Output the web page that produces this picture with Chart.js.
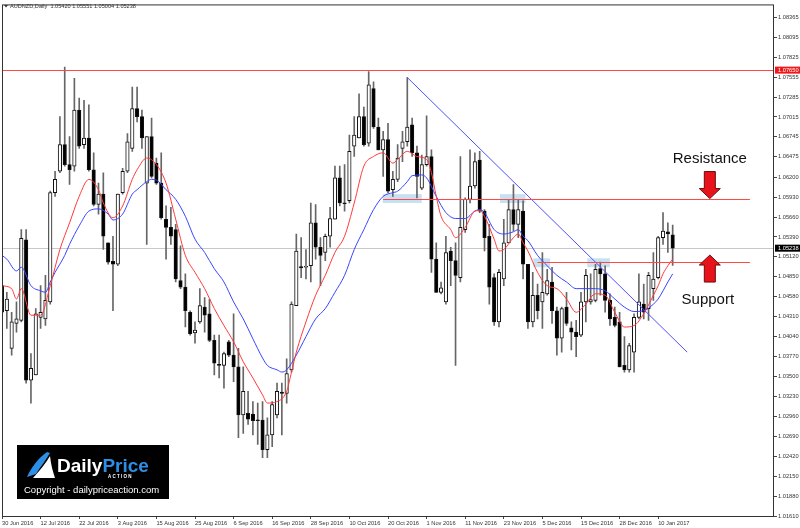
<!DOCTYPE html>
<html>
<head>
<meta charset="utf-8">
<title>AUDNZD Daily</title>
<script src="https://cdn.jsdelivr.net/npm/chart.js@4.4.1/dist/chart.umd.min.js"></script>
<style>
  html, body { margin: 0; padding: 0; background: #fff; }
  #wrap { width: 800px; height: 528px; }
</style>
</head>
<body>
<div id="wrap"><canvas id="chart" width="800" height="528"></canvas></div>
<script>
// daily candles, 30 Jun 2016 .. 13 Jan 2017
const opens = [
  1.0473, 1.0439, 1.0388, 1.0422, 1.0426, 1.0535, 1.0345, 1.0352, 1.0430, 1.0428,
  1.0451, 1.0599, 1.0628, 1.0664, 1.0637, 1.0635, 1.0711, 1.0664, 1.0673, 1.0630,
  1.0583, 1.0597, 1.0531, 1.0506, 1.0502, 1.0599, 1.0628, 1.0659, 1.0713, 1.0702,
  1.0612, 1.0675, 1.0639, 1.0612, 1.0563, 1.0552, 1.0549, 1.0480, 1.0471, 1.0437,
  1.0409, 1.0424, 1.0444, 1.0435, 1.0399, 1.0366, 1.0365, 1.0397, 1.0379, 1.0363,
  1.0298, 1.0300, 1.0299, 1.0291, 1.0291, 1.0251, 1.0271, 1.0298, 1.0329, 1.0327,
  1.0359, 1.0446, 1.0499, 1.0498, 1.0500, 1.0558, 1.0525, 1.0518, 1.0540, 1.0563,
  1.0619, 1.0585, 1.0588, 1.0662, 1.0673, 1.0702, 1.0666, 1.0740, 1.0688, 1.0657,
  1.0671, 1.0603, 1.0617, 1.0659, 1.0668, 1.0691, 1.0653, 1.0605, 1.0637, 1.0648,
  1.0509, 1.0464, 1.0451, 1.0520, 1.0507, 1.0484, 1.0549, 1.0590, 1.0608, 1.0643,
  1.0574, 1.0540, 1.0484, 1.0424, 1.0482, 1.0531, 1.0576, 1.0556, 1.0574, 1.0502,
  1.0424, 1.0460, 1.0451, 1.0462, 1.0478, 1.0439, 1.0402, 1.0444, 1.0416, 1.0410,
  1.0406, 1.0451, 1.0451, 1.0453, 1.0496, 1.0489, 1.0453, 1.0430, 1.0424, 1.0365,
  1.0359, 1.0383, 1.0430, 1.0448, 1.0442, 1.0469, 1.0484, 1.0538, 1.0546, 1.05420
];
const highs = [
  1.0502, 1.0464, 1.0437, 1.0451, 1.0549, 1.0549, 1.0381, 1.0442, 1.0473, 1.0487,
  1.0601, 1.0628, 1.0702, 1.0769, 1.0675, 1.0754, 1.0727, 1.0724, 1.0718, 1.0653,
  1.0612, 1.0626, 1.0531, 1.0540, 1.0597, 1.0632, 1.0679, 1.0742, 1.0742, 1.0711,
  1.0675, 1.0700, 1.0646, 1.0653, 1.0581, 1.0579, 1.0556, 1.0527, 1.0489, 1.0439,
  1.0424, 1.0469, 1.0457, 1.0455, 1.0406, 1.0406, 1.0383, 1.0399, 1.0435, 1.0388,
  1.0363, 1.0330, 1.0316, 1.0314, 1.0316, 1.0294, 1.0316, 1.0341, 1.0341, 1.0374,
  1.0451, 1.0543, 1.0538, 1.0522, 1.0585, 1.0583, 1.0538, 1.0543, 1.0579, 1.0635,
  1.0635, 1.0637, 1.0677, 1.0702, 1.0733, 1.0715, 1.0763, 1.0749, 1.0700, 1.0682,
  1.0693, 1.0628, 1.0664, 1.0682, 1.0755, 1.0700, 1.0662, 1.0650, 1.0703, 1.0657,
  1.0531, 1.0478, 1.0540, 1.0525, 1.0531, 1.0648, 1.0592, 1.0657, 1.0653, 1.0655,
  1.0576, 1.0556, 1.0489, 1.0495, 1.0563, 1.0590, 1.0610, 1.0590, 1.0588, 1.0502,
  1.0491, 1.0475, 1.0518, 1.0495, 1.0498, 1.0444, 1.0444, 1.0464, 1.0424, 1.0426,
  1.0464, 1.0495, 1.0489, 1.0502, 1.0505, 1.0500, 1.0462, 1.0444, 1.0437, 1.0404,
  1.0395, 1.0435, 1.0489, 1.0475, 1.0491, 1.0518, 1.0540, 1.0572, 1.0558, 1.05551
];
const lows = [
  1.0428, 1.0415, 1.0379, 1.0410, 1.0424, 1.0341, 1.0314, 1.0352, 1.0415, 1.0419,
  1.0448, 1.0594, 1.0626, 1.0635, 1.0610, 1.0628, 1.0659, 1.0659, 1.0628, 1.0581,
  1.0570, 1.0522, 1.0502, 1.0439, 1.0500, 1.0597, 1.0626, 1.0655, 1.0695, 1.0659,
  1.0529, 1.0619, 1.0610, 1.0563, 1.0509, 1.0529, 1.0478, 1.0469, 1.0417, 1.0406,
  1.0395, 1.0422, 1.0410, 1.0397, 1.0352, 1.0348, 1.0334, 1.0377, 1.0343, 1.0267,
  1.0273, 1.0285, 1.0271, 1.0258, 1.0240, 1.0240, 1.0255, 1.0294, 1.0271, 1.0314,
  1.0356, 1.0446, 1.0484, 1.0482, 1.0478, 1.0509, 1.0473, 1.0507, 1.0525, 1.0563,
  1.0581, 1.0574, 1.0585, 1.0648, 1.0673, 1.0662, 1.0662, 1.0686, 1.0657, 1.0621,
  1.0599, 1.0594, 1.0614, 1.0641, 1.0662, 1.0648, 1.0592, 1.0603, 1.0635, 1.0491,
  1.0464, 1.0462, 1.0448, 1.0473, 1.0365, 1.0478, 1.0545, 1.0585, 1.0605, 1.0572,
  1.0520, 1.0448, 1.0419, 1.0417, 1.0473, 1.0531, 1.0547, 1.0538, 1.0482, 1.0415,
  1.0417, 1.0428, 1.0415, 1.0460, 1.0422, 1.0379, 1.0383, 1.0419, 1.0386, 1.0377,
  1.0404, 1.0424, 1.0448, 1.0451, 1.0460, 1.0437, 1.0419, 1.0417, 1.0363, 1.0356,
  1.0356, 1.0356, 1.0428, 1.0428, 1.0426, 1.0453, 1.0482, 1.0529, 1.0518, 1.05004
];
const closes = [
  1.0437, 1.0455, 1.0424, 1.0428, 1.0537, 1.0345, 1.0361, 1.0435, 1.0437, 1.0453,
  1.0599, 1.0617, 1.0664, 1.0637, 1.0630, 1.0711, 1.0662, 1.0673, 1.0630, 1.0583,
  1.0597, 1.0540, 1.0505, 1.0502, 1.0597, 1.0628, 1.0668, 1.0713, 1.0702, 1.0673,
  1.0675, 1.0621, 1.0612, 1.0565, 1.0552, 1.0540, 1.0482, 1.0471, 1.0439, 1.0408,
  1.0413, 1.0446, 1.0433, 1.0399, 1.0368, 1.0365, 1.0381, 1.0379, 1.0363, 1.0298,
  1.0330, 1.0292, 1.0290, 1.0290, 1.0251, 1.0271, 1.0312, 1.0330, 1.0327, 1.0354,
  1.0448, 1.0520, 1.0497, 1.0499, 1.0558, 1.0525, 1.0514, 1.0540, 1.0564, 1.0619,
  1.0585, 1.0584, 1.0655, 1.0677, 1.0702, 1.0664, 1.0745, 1.0688, 1.0657, 1.0671,
  1.0601, 1.0617, 1.0646, 1.0668, 1.0688, 1.0653, 1.0621, 1.0637, 1.0648, 1.0509,
  1.0464, 1.0470, 1.0518, 1.0507, 1.0487, 1.0552, 1.0590, 1.0608, 1.0641, 1.0574,
  1.0538, 1.0471, 1.0424, 1.0491, 1.0531, 1.0576, 1.0556, 1.0576, 1.0502, 1.0424,
  1.0460, 1.0439, 1.0464, 1.0480, 1.0439, 1.0402, 1.0442, 1.0422, 1.0410, 1.0404,
  1.0451, 1.0487, 1.0454, 1.0495, 1.0489, 1.0453, 1.0428, 1.0419, 1.0363, 1.0359,
  1.0392, 1.0430, 1.0451, 1.0437, 1.0487, 1.0482, 1.0538, 1.0547, 1.0543, 1.05238
];

// moving averages as drawn (bar index, value)
const maFastPoints = [
  [0, 1.0473], [2, 1.0469], [3, 1.0455], [4, 1.0469], [6, 1.0433], [8, 1.0433], [10, 1.0473],
  [12, 1.0522], [14, 1.0558], [16, 1.0594], [18, 1.0617], [20, 1.0603], [21, 1.0585], [23, 1.0565],
  [25, 1.0581], [27, 1.0617], [28, 1.0630], [30, 1.0646], [32, 1.0637], [34, 1.0612], [36, 1.0563],
  [38, 1.0514], [40, 1.0491], [42, 1.0469], [44, 1.0442], [46, 1.0419], [48, 1.0397], [50, 1.0370],
  [52, 1.0348], [54, 1.0325], [55, 1.0314], [57, 1.0316], [59, 1.0330], [60, 1.0356], [61, 1.0383],
  [63, 1.0424], [65, 1.0460], [67, 1.0487], [69, 1.0518], [71, 1.0540], [73, 1.0585], [75, 1.0635],
  [77, 1.0648], [79, 1.0653], [81, 1.0639], [82, 1.0644], [84, 1.0655], [86, 1.0648], [88, 1.0644],
  [89, 1.0626], [90, 1.0594], [91, 1.0567], [93, 1.0549], [94, 1.0538], [96, 1.0552], [98, 1.0574],
  [99, 1.0575], [100, 1.0567], [102, 1.0536], [103, 1.0520], [104, 1.0522], [106, 1.0538],
  [107, 1.0543], [108, 1.0531], [109, 1.0520], [111, 1.0491], [113, 1.0473], [115, 1.0469],
  [117, 1.0455], [119, 1.0437], [121, 1.0448], [123, 1.0462], [125, 1.0460], [127, 1.0437],
  [129, 1.0417], [131, 1.0419], [133, 1.0435], [135, 1.0460], [136, 1.0473], [137, 1.0489],
  [138, 1.0500], [139, 1.0509]
];
const maSlowPoints = [
  [0, 1.0514], [1, 1.0509], [3, 1.0493], [4, 1.0498], [6, 1.0473], [8, 1.0466], [9, 1.0464],
  [10, 1.0478], [11, 1.0491], [13, 1.0514], [14, 1.0529], [16, 1.0554], [18, 1.0574], [20, 1.0577],
  [22, 1.0570], [23, 1.0562], [25, 1.0570], [27, 1.0597], [28, 1.0603], [30, 1.0614], [31, 1.0617],
  [32, 1.0616], [34, 1.0603], [36, 1.0590], [38, 1.0567], [40, 1.0536], [42, 1.0518], [44, 1.0496],
  [46, 1.0478], [48, 1.0451], [50, 1.0428], [52, 1.0401], [54, 1.0375], [55, 1.0365], [57, 1.0359],
  [58, 1.0356], [59, 1.0359], [61, 1.0379], [63, 1.0404], [65, 1.0428], [67, 1.0442], [69, 1.0464],
  [71, 1.0487], [73, 1.0522], [75, 1.0549], [77, 1.0576], [79, 1.0594], [81, 1.0599], [82, 1.0601],
  [84, 1.0614], [85, 1.0622], [87, 1.0623], [88, 1.0619], [90, 1.0594], [92, 1.0572], [94, 1.0564],
  [96, 1.0564], [98, 1.0574], [99, 1.0576], [100, 1.0572], [102, 1.0549], [104, 1.0543],
  [106, 1.0546], [107, 1.0549], [108, 1.0540], [109, 1.0534], [111, 1.0514], [113, 1.0500],
  [115, 1.0487], [117, 1.0478], [119, 1.0469], [121, 1.0469], [123, 1.0469], [125, 1.0466],
  [127, 1.0455], [129, 1.0444], [131, 1.0438], [133, 1.0439], [135, 1.0448], [136, 1.0455],
  [137, 1.0466], [138, 1.0478], [139, 1.0489]
];

// price axis labels
const yTicks = [
  1.08365, 1.08095, 1.07825, 1.07555, 1.07285, 1.07015, 1.06745, 1.06475, 1.06200,
  1.05930, 1.05660, 1.05390, 1.05120, 1.04850, 1.04580, 1.04310, 1.04040, 1.03770,
  1.03500, 1.03230, 1.02960, 1.02690, 1.02420, 1.02150, 1.01880, 1.01610
];
const yMin = 1.0161;
const yMax = 1.0854;

const monthNames = ['Jan', 'Feb', 'Mar', 'Apr', 'May', 'Jun', 'Jul', 'Aug', 'Sep', 'Oct', 'Nov', 'Dec'];
const skippedDays = ['2016-12-26', '2017-01-02'];
const emptySlots = 21;     // blank space right of the last bar
const labelEvery = 8;

// drawn objects (bar index / price)
const trendPoints = [[84, 1.0755], [142, 1.0383]];
const majorLevel = 1.0765;
const lastPrice = 1.05238;
const resistance = { from: 79, to: 155, price: 1.0591 };
const support = { from: 111, to: 155, price: 1.0505 };
const zones = [
  { from: 78.9, to: 87.0, top: 1.0597, bottom: 1.0585 },
  { from: 103.2, to: 108.5, top: 1.0597, bottom: 1.0585 },
  { from: 110.1, to: 113.6, top: 1.0510, bottom: 1.0498 },
  { from: 121.3, to: 126.0, top: 1.0510, bottom: 1.0498 }
];
const noteAt = 146.7;

const FONT = "'Liberation Sans', Arial, sans-serif";

function buildDates(count) {
  const out = [];
  const d = new Date(Date.UTC(2016, 5, 30));
  while (out.length < count) {
    const wd = d.getUTCDay();
    const iso = d.toISOString().slice(0, 10);
    if (wd !== 0 && wd !== 6 && !skippedDays.includes(iso)) {
      out.push(d.getUTCDate() + ' ' + monthNames[d.getUTCMonth()] + ' ' + d.getUTCFullYear());
    }
    d.setUTCDate(d.getUTCDate() + 1);
  }
  return out;
}

const dates = buildDates(opens.length);
const labels = dates.concat(new Array(emptySlots).fill(''));
const N = labels.length;

function sparse(points) {
  const a = new Array(N).fill(null);
  points.forEach(([i, v]) => { a[i] = v; });
  return a;
}

const isUp = i => closes[i] >= opens[i];
const isLabelTick = i => i < dates.length && i % labelEvery === 0;

function arrow(ctx, cx, tipY, down) {
  const shaftW = 5.5, headW = 10.5, headH = 10, len = 27;
  const s = down ? -1 : 1;
  const baseY = tipY + s * len;
  const neckY = tipY + s * headH;
  ctx.beginPath();
  ctx.moveTo(cx, tipY);
  ctx.lineTo(cx + headW, neckY);
  ctx.lineTo(cx + shaftW, neckY);
  ctx.lineTo(cx + shaftW, baseY);
  ctx.lineTo(cx - shaftW, baseY);
  ctx.lineTo(cx - shaftW, neckY);
  ctx.lineTo(cx - headW, neckY);
  ctx.closePath();
  ctx.fillStyle = '#e8121b';
  ctx.fill();
  ctx.strokeStyle = '#6a0a0a';
  ctx.lineWidth = 1;
  ctx.stroke();
}

const overlay = {
  id: 'overlay',
  beforeDatasetsDraw(chart) {
    const { ctx, chartArea: a, scales: { x, y } } = chart;
    ctx.save();
    ctx.beginPath();
    ctx.rect(a.left, a.top, a.right - a.left, a.bottom - a.top);
    ctx.clip();
    ctx.fillStyle = 'rgba(190, 220, 240, 0.85)';
    zones.forEach(z => {
      const x0 = x.getPixelForValue(z.from), x1 = x.getPixelForValue(z.to);
      const y0 = y.getPixelForValue(z.top), y1 = y.getPixelForValue(z.bottom);
      ctx.fillRect(x0, y0, x1 - x0, y1 - y0);
    });
    const py = Math.round(y.getPixelForValue(lastPrice)) + 0.5;
    ctx.strokeStyle = '#c8c8c8';
    ctx.lineWidth = 1;
    ctx.beginPath();
    ctx.moveTo(a.left, py);
    ctx.lineTo(a.right, py);
    ctx.stroke();
    ctx.restore();
  },
  afterDatasetsDraw(chart) {
    const { ctx, chartArea: a, scales: { x, y } } = chart;
    ctx.save();
    ctx.beginPath();
    ctx.rect(a.left, a.top, a.right - a.left, a.bottom - a.top);
    ctx.clip();
    ctx.strokeStyle = '#ff4848';
    ctx.lineWidth = 1;
    const hl = (p, x0, x1) => {
      const py = Math.round(y.getPixelForValue(p)) + 0.5;
      ctx.beginPath();
      ctx.moveTo(x0, py);
      ctx.lineTo(x1, py);
      ctx.stroke();
    };
    hl(majorLevel, a.left, a.right);
    hl(resistance.price, x.getPixelForValue(resistance.from), x.getPixelForValue(resistance.to));
    hl(support.price, x.getPixelForValue(support.from), x.getPixelForValue(support.to));

    // notes
    const cx = x.getPixelForValue(noteAt);
    const ry = y.getPixelForValue(resistance.price);
    const sy = y.getPixelForValue(support.price);
    arrow(ctx, cx, ry, true);
    arrow(ctx, cx, sy - 7, false);
    ctx.fillStyle = '#111';
    ctx.font = '15px ' + FONT;
    ctx.textAlign = 'center';
    ctx.textBaseline = 'middle';
    ctx.fillText('Resistance', cx, ry - 40);
    ctx.fillText('Support', cx - 2, sy + 38);
    ctx.restore();
  },
  afterDraw(chart) {
    const { ctx, chartArea: a, scales: { y } } = chart;
    ctx.save();
    // frame
    ctx.strokeStyle = '#333';
    ctx.lineWidth = 1;
    ctx.strokeRect(a.left + 0.5, a.top + 0.5, a.right - a.left - 1, a.bottom - a.top);

    // price markers on the axis
    ctx.font = '5.7px ' + FONT;
    ctx.textBaseline = 'middle';
    ctx.textAlign = 'left';
    [[majorLevel, '#f01818', '1.07650'], [lastPrice, '#000', lastPrice.toFixed(5)]].forEach(([p, bg, txt]) => {
      const py = y.getPixelForValue(p);
      ctx.fillStyle = bg;
      ctx.fillRect(a.right + 1, py - 3.5, 25, 7);
      ctx.fillStyle = '#fff';
      ctx.fillText(txt, a.right + 4, py);
    });

    // title
    ctx.fillStyle = '#333';
    ctx.beginPath();
    ctx.moveTo(4, 5); ctx.lineTo(8, 5); ctx.lineTo(6, 7.5); ctx.closePath();
    ctx.fill();
    ctx.font = '5.6px ' + FONT;
    ctx.fillText('AUDNZD,Daily  1.05420 1.05551 1.05004 1.05238', 10, 6.5);

    // logo
    ctx.fillStyle = '#000';
    ctx.fillRect(17, 445, 152, 54);
    ctx.fillStyle = '#2d8ee6';
    ctx.beginPath();
    ctx.moveTo(27, 477);
    ctx.bezierCurveTo(31, 468, 38, 458, 47, 452);
    ctx.lineTo(50, 453);
    ctx.bezierCurveTo(46, 460, 41, 466, 36, 474);
    ctx.closePath();
    ctx.fill();
    ctx.fillStyle = '#fff';
    ctx.beginPath();
    ctx.moveTo(33, 478);
    ctx.bezierCurveTo(40, 470, 46, 463, 50, 456);
    ctx.bezierCurveTo(51, 465, 53, 472, 55, 478);
    ctx.closePath();
    ctx.fill();
    ctx.textAlign = 'left';
    ctx.textBaseline = 'alphabetic';
    ctx.font = 'bold 19px ' + FONT;
    ctx.fillStyle = '#fff';
    ctx.fillText('Daily', 57, 472);
    const w = ctx.measureText('Daily').width;
    ctx.fillStyle = '#2d8ee6';
    ctx.fillText('Price', 57 + w, 472);
    ctx.fillStyle = '#fff';
    ctx.font = 'bold 4.5px ' + FONT;
    ctx.fillText('A C T I O N', 108, 478);
    ctx.font = '9.5px ' + FONT;
    ctx.fillText('Copyright - dailypriceaction.com', 24, 493);
    ctx.restore();
  }
};

const chart = new Chart(document.getElementById('chart'), {
  type: 'bar',
  data: {
    labels: labels,
    datasets: [
      {
        label: 'range',
        data: lows.map((l, i) => [l, highs[i]]),
        backgroundColor: '#666',
        barThickness: 1,
        grouped: false,
        order: 3
      },
      {
        label: 'body',
        data: opens.map((o, i) => [o, closes[i]]),
        backgroundColor: c => (isUp(c.dataIndex) ? '#ffffff' : '#000000'),
        borderColor: '#111',
        borderWidth: 1,
        borderSkipped: false,
        barThickness: 3.5,
        minBarLength: 1,
        grouped: false,
        order: 2
      },
      {
        type: 'line',
        label: 'fast MA',
        data: sparse(maFastPoints),
        borderColor: '#ff3a3a',
        borderWidth: 1,
        pointRadius: 0,
        spanGaps: true,
        cubicInterpolationMode: 'monotone',
        order: 1
      },
      {
        type: 'line',
        label: 'slow MA',
        data: sparse(maSlowPoints),
        borderColor: '#3a46ff',
        borderWidth: 1,
        pointRadius: 0,
        spanGaps: true,
        cubicInterpolationMode: 'monotone',
        order: 1
      },
      {
        type: 'line',
        label: 'trend',
        data: sparse(trendPoints),
        borderColor: '#5050ff',
        borderWidth: 1,
        pointRadius: 0,
        spanGaps: true,
        tension: 0,
        order: 0
      }
    ]
  },
  options: {
    responsive: false,
    animation: false,
    events: [],
    layout: { padding: { left: 2, top: 2, right: 0, bottom: 0 } },
    plugins: { legend: { display: false }, tooltip: { enabled: false } },
    scales: {
      x: {
        type: 'category',
        offset: false,
        border: { display: false },
        grid: {
          offset: false,
          drawOnChartArea: false,
          tickLength: 3,
          color: c => (isLabelTick(c.index) ? '#444' : 'rgba(0,0,0,0)')
        },
        ticks: {
          autoSkip: false,
          maxRotation: 0,
          minRotation: 0,
          align: 'start',
          padding: 1,
          color: '#333',
          font: { family: FONT, size: 5.7 },
          callback: (v, i) => (isLabelTick(i) ? labels[i] : '')
        },
        afterFit: s => { s.height = 12; }
      },
      y: {
        position: 'right',
        min: yMin,
        max: yMax,
        border: { display: false },
        grid: { drawOnChartArea: false, tickLength: 3, color: '#444' },
        ticks: {
          autoSkip: false,
          padding: 1,
          color: '#333',
          font: { family: FONT, size: 5.7 },
          callback: v => v.toFixed(5)
        },
        afterBuildTicks: s => { s.ticks = yTicks.map(v => ({ value: v })); },
        afterFit: s => { s.width = 26; }
      }
    }
  },
  plugins: [overlay]
});
</script>
</body>
</html>
